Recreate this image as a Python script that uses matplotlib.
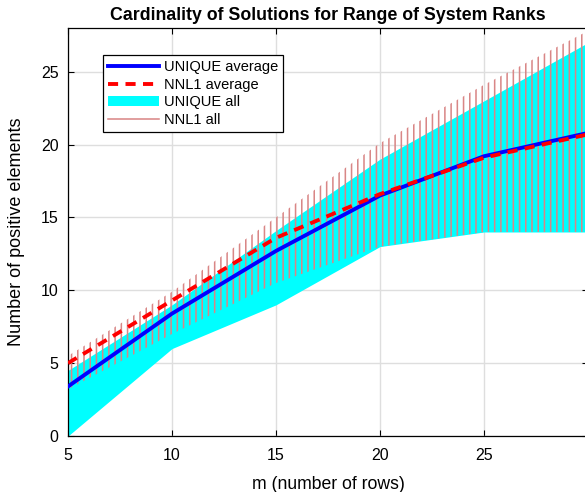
import matplotlib
matplotlib.use("Agg")
import matplotlib.pyplot as plt
from matplotlib.lines import Line2D

# valores
m = [5, 10, 15, 20, 25, 30]
unique_avg = [3.4, 8.4, 12.7, 16.5, 19.2, 20.8]
nnl1_avg = [5.0, 9.3, 13.6, 16.6, 19.1, 20.7]
unique_lo = [0.0, 6.0, 9.0, 13.0, 14.0, 14.0]
unique_hi = [4.5, 9.0, 14.1, 19.0, 23.0, 27.0]
nnl1_lo = [3.2, 7.0, 10.5, 13.0, 14.0, 14.0]
nnl1_hi = [5.5, 9.9, 15.0, 20.1, 24.1, 27.8]

xticks = [5, 10, 15, 20, 25]
yticks = [0, 5, 10, 15, 20, 25]

plt.rcParams['font.family'] = ['Liberation Sans', 'DejaVu Sans']
plt.rcParams['hatch.linewidth'] = 1.0

dpi = 112
fig = plt.figure(figsize=(585 / dpi, 492 / dpi), dpi=dpi)
ax = fig.add_axes([68 / 585, 56 / 492, 520 / 585, 408 / 492])

rosa = '#d98686'

ax.fill_between(m, unique_lo, unique_hi, color='#00ffff', linewidth=0, zorder=1)
# lineas verticales de NNL1 con un rayado
ax.fill_between(m, nnl1_lo, nnl1_hi, facecolor='none', edgecolor=rosa,
                hatch='|||', linewidth=0, zorder=2)
ax.plot(m, unique_avg, color='#0000ff', lw=2.5, zorder=3)
ax.plot(m, nnl1_avg, color='#ff0000', lw=2.5, dashes=(2.6, 1.9), zorder=4)

handles = [
    Line2D([], [], color='#0000ff', lw=2.5),
    Line2D([], [], color='#ff0000', lw=2.5, dashes=(2.6, 1.9)),
    plt.Rectangle((0, 0), 1, 1, facecolor='#00ffff', edgecolor='none'),
    Line2D([], [], color=rosa, lw=1.0),
]
labels = ['UNIQUE average', 'NNL1 average', 'UNIQUE all', 'NNL1 all']
leg = fig.legend(handles, labels, loc='upper left',
                 bbox_to_anchor=(103 / 585, 1 - 55 / 492), borderaxespad=0,
                 fontsize=9.4, handlelength=3.5, labelspacing=0.26,
                 handletextpad=0.35, borderpad=0.33, fancybox=False,
                 framealpha=1, edgecolor='black')
leg.get_frame().set_linewidth(0.8)

ax.set_xlim(5, 30)
ax.set_ylim(0, 28)
ax.set_xticks(xticks)
ax.set_yticks(yticks)
ax.grid(True, color='#dedede', linewidth=0.9)
ax.set_axisbelow(True)
ax.tick_params(direction='in', length=4, labelsize=10.3, top=True, right=True,
               width=0.7)
ax.tick_params(axis='x', pad=8)
ax.tick_params(axis='y', pad=6)
for s in ax.spines.values():
    s.set_linewidth(0.8)

ax.set_title('Cardinality of Solutions for Range of System Ranks',
             fontsize=11.4, fontweight='bold', pad=5)
ax.set_xlabel('m (number of rows)', fontsize=11.3, labelpad=8)
ax.set_ylabel('Number of positive elements', fontsize=11.6, labelpad=10)

fig.savefig('out.png', dpi=dpi)
